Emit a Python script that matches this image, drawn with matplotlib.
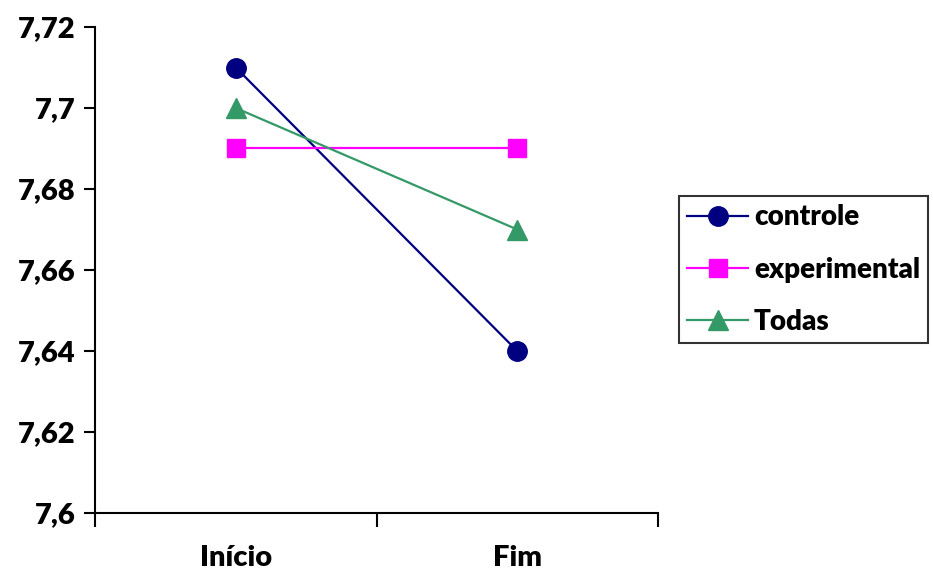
import numpy as np
import matplotlib.pyplot as plt
from matplotlib.ticker import FixedLocator, NullFormatter

plt.rcParams['font.family'] = ['Lato', 'DejaVu Sans']
plt.rcParams['font.weight'] = 'bold'

periods = ['Início', 'Fim']
controle = [7.71, 7.64]
experimental = [7.69, 7.69]
todas = [7.70, 7.67]
yticks = [7.6, 7.62, 7.64, 7.66, 7.68, 7.7, 7.72]
ylabels = ['7,6', '7,62', '7,64', '7,66', '7,68', '7,7', '7,72']

fig = plt.figure(figsize=(9.33, 5.72), dpi=100)
ax = fig.add_axes([95/933, 1-513/572, (658-95)/933, (513-27)/572])

x = np.arange(len(periods))
ax.plot(x, controle, color='#000080', lw=1.6, marker='o', ms=14,
        label='controle')
ax.plot(x, experimental, color='#FF00FF', lw=1.6, marker='s', ms=13,
        label='experimental')
ax.plot(x, todas, color='#339966', lw=1.6, marker='^', ms=14,
        label='Todas')

ax.set_xlim(-0.5, 1.5)
ax.set_ylim(7.6, 7.72)
ax.set_yticks(yticks)
ax.set_yticklabels(ylabels, fontsize=21, fontweight='heavy')

# category boundaries carry the tick marks, labels sit between them
ax.xaxis.set_major_locator(FixedLocator([-0.5, 0.5, 1.5]))
ax.xaxis.set_major_formatter(NullFormatter())
ax.xaxis.set_minor_locator(FixedLocator(x))
ax.set_xticklabels(periods, minor=True, fontsize=21, fontweight='heavy')
ax.tick_params(axis='x', which='minor', length=0, pad=23)
ax.tick_params(axis='x', which='major', length=10, width=1.5)
ax.tick_params(axis='y', length=8, width=1.5, pad=6)

for side in ['top', 'right']:
    ax.spines[side].set_visible(False)
for side in ['left', 'bottom']:
    ax.spines[side].set_linewidth(1.5)

leg = fig.legend(loc='upper left', bbox_to_anchor=(679/933, 1-196/572),
                 prop={'family': ['Lato', 'DejaVu Sans'], 'weight': 'heavy', 'size': 20},
                 fancybox=False, frameon=True, edgecolor='black',
                 handlelength=2.2, handletextpad=0.2, borderpad=0.3,
                 labelspacing=0.95, borderaxespad=0)
leg.get_frame().set_linewidth(1.5)

fig.savefig('out.png', dpi=100)
